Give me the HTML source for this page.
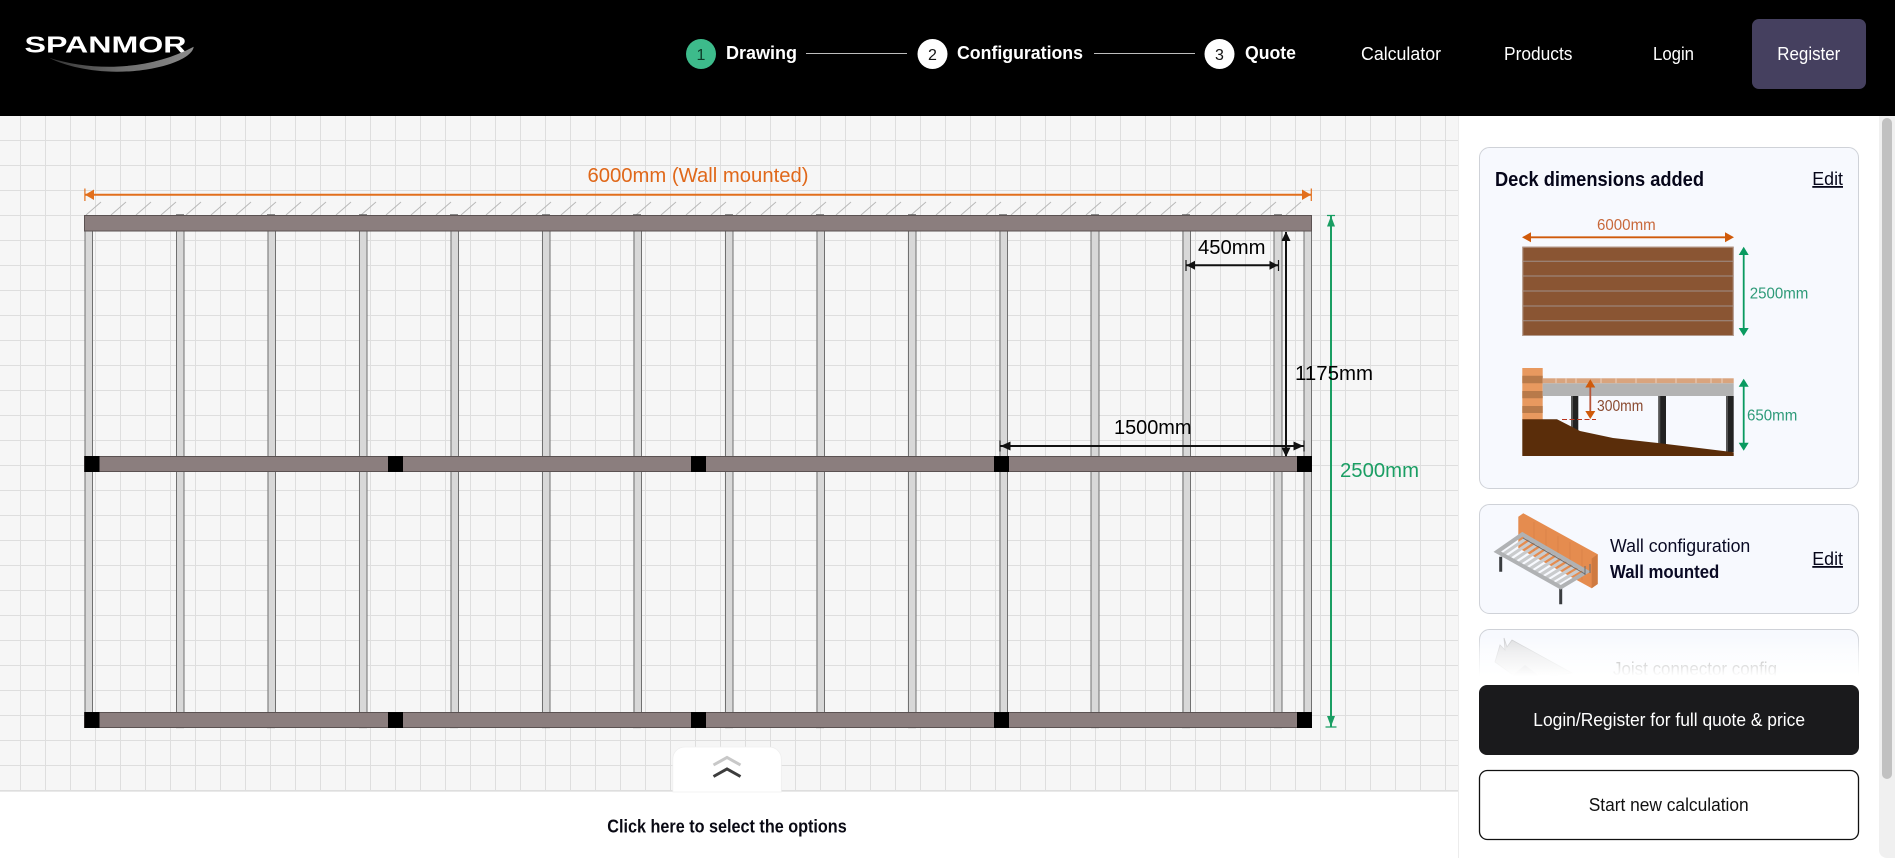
<!DOCTYPE html>
<html lang="en">
<head>
<meta charset="utf-8">
<title>Spanmor Deck Calculator</title>
<style>
html,body{margin:0;padding:0;width:1895px;height:858px;overflow:hidden;background:#fff}
svg{display:block}
text{font-family:"Liberation Sans",sans-serif}
</style>
</head>
<body>
<svg xmlns="http://www.w3.org/2000/svg" width="1895" height="858" viewBox="0 0 1895 858">
<defs>
<pattern id="g" x="20" y="115" width="25" height="25" patternUnits="userSpaceOnUse">
<rect width="25" height="25" fill="#f6f6f6"/>
<path d="M0.5 0V25M0 0.5H25" stroke="#dedede" stroke-width="1" fill="none"/>
</pattern>
<linearGradient id="fade" x1="0" y1="0" x2="0" y2="1">
<stop offset="0" stop-color="#fff" stop-opacity="0"/>
<stop offset="0.4" stop-color="#fff" stop-opacity="0.55"/>
<stop offset="1" stop-color="#fff" stop-opacity="1"/>
</linearGradient>
<linearGradient id="sw" x1="0" y1="0" x2="1" y2="0">
<stop offset="0" stop-color="#333"/>
<stop offset="0.5" stop-color="#6e6e6e"/>
<stop offset="1" stop-color="#8a8a8a"/>
</linearGradient>
</defs>

<!-- canvas -->
<rect x="0" y="116" width="1459" height="676" fill="url(#g)"/>

<!-- hatches -->
<path d="M86 215l15-13M111 215l15-13M136 215l15-13M161 215l15-13M186 215l15-13M211 215l15-13M236 215l15-13M261 215l15-13M286 215l15-13M311 215l15-13M336 215l15-13M361 215l15-13M386 215l15-13M411 215l15-13M436 215l15-13M461 215l15-13M486 215l15-13M511 215l15-13M536 215l15-13M561 215l15-13M586 215l15-13M611 215l15-13M636 215l15-13M661 215l15-13M686 215l15-13M711 215l15-13M736 215l15-13M761 215l15-13M786 215l15-13M811 215l15-13M836 215l15-13M861 215l15-13M886 215l15-13M911 215l15-13M936 215l15-13M961 215l15-13M986 215l15-13M1011 215l15-13M1036 215l15-13M1061 215l15-13M1086 215l15-13M1111 215l15-13M1136 215l15-13M1161 215l15-13M1186 215l15-13M1211 215l15-13M1236 215l15-13M1261 215l15-13M1286 215l15-13" stroke="#b8b8b8" stroke-width="1" fill="none"/>

<!-- joists -->
<g fill="#d8d8d8">
<rect x="84.500" y="231" width="8.300" height="481"/><rect x="176" y="231" width="8.300" height="481"/><rect x="267.400" y="231" width="8.300" height="481"/><rect x="358.900" y="231" width="8.300" height="481"/><rect x="450.400" y="231" width="8.300" height="481"/><rect x="541.900" y="231" width="8.300" height="481"/><rect x="633.300" y="231" width="8.300" height="481"/><rect x="724.800" y="231" width="8.300" height="481"/><rect x="816.300" y="231" width="8.300" height="481"/><rect x="907.700" y="231" width="8.300" height="481"/><rect x="999.200" y="231" width="8.300" height="481"/><rect x="1090.700" y="231" width="8.300" height="481"/><rect x="1182.100" y="231" width="8.300" height="481"/><rect x="1273.600" y="231" width="8.300" height="481"/><rect x="1303.600" y="231" width="8.300" height="481"/>
</g>
<path d="M85 231V712M92.500 231V712M176.500 231V712M184 231V712M268 231V712M275.500 231V712M359.500 231V712M367 231V712M451 231V712M458.500 231V712M542.500 231V712M550 231V712M634 231V712M641.500 231V712M725.500 231V712M733 231V712M817 231V712M824.500 231V712M908.500 231V712M916 231V712M1000 231V712M1007.500 231V712M1091 231V712M1099 231V712M1183 231V712M1190.500 231V712M1274 231V712M1282 231V712M1304 231V712M1311.500 231V712" stroke="#707070" stroke-width="1" fill="none"/>

<!-- nubs -->
<path d="M176 214.800h8M267 214.800h8M359 214.800h8M450 214.800h8M542 214.800h8M633 214.800h8M725 214.800h8M816 214.800h8M908 214.800h8M999 214.800h8M1091 214.800h8M1182 214.800h8M1274 214.800h8M176 727.500h8M267 727.500h8M359 727.500h8M450 727.500h8M542 727.500h8M633 727.500h8M725 727.500h8M816 727.500h8M908 727.500h8M1091 727.500h8M1182 727.500h8M1274 727.500h8" stroke="#666" stroke-width="1.200" fill="none"/>

<!-- beams -->
<g fill="#8b7e7e" stroke="#5b5252" stroke-width="1">
<rect x="84.500" y="215.500" width="1227" height="15.500"/>
<rect x="84.500" y="456.500" width="1227" height="15"/>
<rect x="84.500" y="712.500" width="1227" height="15"/>
</g>
<g fill="#000">
<rect x="84.500" y="456" width="15" height="16"/><rect x="388" y="456" width="15" height="16"/><rect x="691" y="456" width="15" height="16"/><rect x="994" y="456" width="15" height="16"/><rect x="1297" y="456" width="15" height="16"/>
<rect x="84.500" y="712" width="15" height="16"/><rect x="388" y="712" width="15" height="16"/><rect x="691" y="712" width="15" height="16"/><rect x="994" y="712" width="15" height="16"/><rect x="1297" y="712" width="15" height="16"/>
</g>

<!-- orange width dim -->
<path d="M85 194.700H1311" stroke="#e26f1c" stroke-width="2" fill="none"/>
<path d="M84.900 188.500V201M1311.300 188.500V201" stroke="#e26f1c" stroke-width="1.200" fill="none"/>
<path d="M85 194.700L94 189.500V200ZM1311 194.700L1302 189.500V200Z" fill="#e26f1c"/>
<text x="587.500" y="182" font-size="20" fill="#e0681a" textLength="221" lengthAdjust="spacingAndGlyphs">6000mm (Wall mounted)</text>

<!-- green height dim -->
<path d="M1331 216V727" stroke="#1a9e63" stroke-width="2" fill="none"/>
<path d="M1327 215.500H1335M1325.500 727H1336.500" stroke="#1a9e63" stroke-width="1.200" fill="none"/>
<path d="M1331 216L1335 226.500H1327ZM1331 726.500L1335 716H1327Z" fill="#1a9e63"/>
<text x="1340" y="477" font-size="20" fill="#1a9e63" textLength="79" lengthAdjust="spacingAndGlyphs">2500mm</text>

<!-- black dims -->
<g stroke="#111" fill="none">
<path d="M1186 265.300H1278" stroke-width="2"/>
<path d="M1186 260V271M1278.500 260V271" stroke-width="1.200"/>
<path d="M1286 232V456" stroke-width="2"/>
<path d="M1000 446H1304" stroke-width="2"/>
<path d="M1000 440.500V451.500M1304 440.500V451.500" stroke-width="1.200"/>
</g>
<g fill="#111">
<path d="M1186.500 265.300L1195 260.800V269.800ZM1278 265.300L1269.500 260.800V269.800Z"/>
<path d="M1286 231.500L1290.500 241H1281.500ZM1286 457L1290.500 447.500H1281.500Z"/>
<path d="M1000.500 446L1010.500 441.500V450.500ZM1303.500 446L1293.500 441.500V450.500Z"/>
</g>
<g font-size="20.500" fill="#000">
<text x="1198" y="254" textLength="67.500" lengthAdjust="spacingAndGlyphs">450mm</text>
<text x="1295" y="380" textLength="78" lengthAdjust="spacingAndGlyphs">1175mm</text>
<text x="1114" y="434" textLength="77.500" lengthAdjust="spacingAndGlyphs">1500mm</text>
</g>

<!-- bottom bar -->
<rect x="0" y="792" width="1459" height="66" fill="#fff"/>
<path d="M0 791.500H1459" stroke="#e9e9e9" stroke-width="1"/>
<path d="M672.800 792V759a12 12 0 0 1 12-12H769.300a12 12 0 0 1 12 12V792Z" fill="#fff" stroke="#efefef" stroke-width="0.800"/>
<path d="M713.500 765L727 757.500L740.500 765" stroke="#c8c8c8" stroke-width="3" fill="none"/>
<path d="M713.500 776.500L727 769L740.500 776.500" stroke="#3d3d3d" stroke-width="3" fill="none"/>
<text x="607.300" y="832.500" font-size="18" font-weight="700" fill="#0a0a14" textLength="239.400" lengthAdjust="spacingAndGlyphs">Click here to select the options</text>

<!-- right panel -->
<rect x="1459" y="116" width="436" height="742" fill="#fff"/>
<path d="M1458.500 116V858" stroke="#ececec" stroke-width="1"/>

<!-- card 1 -->
<rect x="1479.500" y="147.500" width="379" height="341" rx="10" fill="#f7f9fe" stroke="#cfd2d8"/>
<text x="1495" y="186" font-size="20" font-weight="700" fill="#06061a" textLength="209" lengthAdjust="spacingAndGlyphs">Deck dimensions added</text>
<text x="1812.300" y="185" font-size="18" fill="#06061a" text-decoration="underline" textLength="30.700" lengthAdjust="spacingAndGlyphs">Edit</text>

<rect x="1522.300" y="246.700" width="211.400" height="89.300" fill="#8a5533"/>
<path d="M1522.300 261.300H1733.700M1522.300 276H1733.700M1522.300 291H1733.700M1522.300 306H1733.700M1522.300 320.700H1733.700" stroke="#a39a98" stroke-width="1" stroke-opacity="0.850"/>
<rect x="1522.800" y="247.200" width="210.400" height="88.300" fill="none" stroke="#b39a8c" stroke-width="1"/>
<path d="M1530 237.300H1726" stroke="#d05a0a" stroke-width="1.800"/>
<path d="M1522 237.300L1531 232.300V242.300ZM1734 237.300L1725 232.300V242.300Z" fill="#d05a0a"/>
<text x="1597" y="230" font-size="16" fill="#c8683a" textLength="58.700" lengthAdjust="spacingAndGlyphs">6000mm</text>
<path d="M1743.700 253V330" stroke="#0a9a60" stroke-width="1.800"/>
<path d="M1743.700 246.700L1748.700 255H1738.700ZM1743.700 336L1748.700 328H1738.700Z" fill="#0a9a60"/>
<text x="1749.700" y="298.500" font-size="16" fill="#2d9a78" textLength="58.600" lengthAdjust="spacingAndGlyphs">2500mm</text>

<!-- section -->
<rect x="1522.300" y="368" width="20.400" height="52" fill="#e8995f"/>
<path d="M1522.300 375.700H1542.700V383.300H1522.300ZM1522.300 391H1542.700V398.300H1522.300ZM1522.300 406H1542.700V413H1522.300Z" fill="#b87a4a"/>
<rect x="1542.700" y="378.300" width="191" height="5" fill="#d9a47e"/>
<path d="M1556 378.300v5M1566 378.300v5M1576 378.300v5M1601 378.300v5M1616 378.300v5M1636 378.300v5M1656 378.300v5M1676 378.300v5M1696 378.300v5M1711 378.300v5M1722 378.300v5" stroke="#f0dccd" stroke-width="0.800"/>
<rect x="1542.700" y="383.300" width="191" height="12.700" fill="#b3b3b3"/>
<g fill="#222"><rect x="1571" y="396" width="7.300" height="36"/><rect x="1658.300" y="396" width="7.700" height="48"/><rect x="1726" y="396" width="7.700" height="56"/></g>
<path d="M1571 396h2v36h-2ZM1658.300 396h2v48h-2ZM1726 396h2v56h-2Z" fill="#555"/>
<path d="M1522.300 419.300H1557L1580 431L1613 438L1658 443L1733.700 452.300V456H1522.300Z" fill="#5a2d0a"/>
<path d="M1562 419.500H1596" stroke="#b8341f" stroke-width="1" stroke-dasharray="5 2.500"/>
<path d="M1590.300 385V413" stroke="#b8553a" stroke-width="1.800"/>
<path d="M1590.300 379.300L1595.300 387.500H1585.300ZM1590.300 419L1595.300 411H1585.300Z" fill="#d05a0a"/>
<text x="1597" y="411" font-size="16" fill="#8a4a30" textLength="46.300" lengthAdjust="spacingAndGlyphs">300mm</text>
<path d="M1743.700 385V445" stroke="#0a9a60" stroke-width="1.800"/>
<path d="M1743.700 378.700L1748.700 386.700H1738.700ZM1743.700 450.700L1748.700 442.700H1738.700Z" fill="#0a9a60"/>
<text x="1747" y="420.500" font-size="16" fill="#2d9a78" textLength="50.300" lengthAdjust="spacingAndGlyphs">650mm</text>

<!-- card 2 -->
<rect x="1479.500" y="504.500" width="379" height="109" rx="10" fill="#f7f9fe" stroke="#cfd2d8"/>
<path d="M1518.300 516.700L1523.300 513.300L1597.700 554.300V584L1591.700 588.300L1518.300 548Z" fill="#e58c4f"/>
<path d="M1591.700 558.500L1597.700 554.300V584L1591.700 588.300Z" fill="#cf7a40"/>
<path d="M1534 522V553M1546 529V560M1558 536V567M1570 542V573M1582 549V580" stroke="#d67f46" stroke-width="0.700"/>
<path d="M1500.700 556.700V571.700M1560.700 588V604.300" stroke="#3a3d40" stroke-width="3"/>
<path d="M1502.600 554.700L1527.700 537.400M1507.900 557.600L1533 540.500M1513.200 560.600L1538.400 543.700M1518.400 563.600L1543.800 546.800M1523.700 566.500L1549.100 549.900M1529 569.500L1554.500 553M1534.300 572.500L1559.900 556.100M1539.600 575.400L1565.200 559.200M1544.900 578.400L1570.600 562.400M1550.100 581.400L1576 565.500M1555.400 584.300L1581.300 568.600" stroke="#c9cbcd" stroke-width="3.200" fill="none"/>
<path d="M1497.300 551.700L1522.300 534.300L1586.700 571.700L1560.700 587.300Z" fill="none" stroke="#b0b2b4" stroke-width="4"/>
<path d="M1523 538L1585 574M1585 566v9M1590 564v9" stroke="#6a6c6e" stroke-width="1" fill="none"/>
<text x="1610" y="552" font-size="18" fill="#0a0a24" textLength="140.300" lengthAdjust="spacingAndGlyphs">Wall configuration</text>
<text x="1610" y="578" font-size="18" font-weight="700" fill="#0a0a24" textLength="109.300" lengthAdjust="spacingAndGlyphs">Wall mounted</text>
<text x="1812.300" y="565" font-size="18" fill="#06061a" text-decoration="underline" textLength="30.700" lengthAdjust="spacingAndGlyphs">Edit</text>

<!-- card 3 fading -->
<path d="M1479.500 690V639.500a10 10 0 0 1 10-10H1848.500a10 10 0 0 1 10 10V690Z" fill="#f7f9fe" stroke="#cfd2d8"/>
<path d="M1504 638L1507 647L1512 640L1572 673L1520 680L1495 662L1500 645L1505 650Z" fill="#dcdddf" stroke="#c6c7ca" stroke-width="0.800"/>
<path d="M1513 675L1525 665L1538 675V680H1513Z" fill="#bcbdc0"/>
<text x="1613" y="675" font-size="18" fill="#555" textLength="164" lengthAdjust="spacingAndGlyphs">Joist connector config</text>
<rect x="1460" y="636" width="418" height="40" fill="url(#fade)"/>
<rect x="1460" y="676" width="418" height="182" fill="#fff"/>

<!-- buttons -->
<rect x="1479" y="685" width="380" height="70" rx="8" fill="#1a1a1c"/>
<text x="1533.300" y="725.800" font-size="18" fill="#fff" textLength="271.700" lengthAdjust="spacingAndGlyphs">Login/Register for full quote &amp; price</text>
<rect x="1479.500" y="770.500" width="379" height="69" rx="8" fill="#fff" stroke="#111" stroke-width="1.300"/>
<text x="1588.700" y="810.800" font-size="18" fill="#111" textLength="160" lengthAdjust="spacingAndGlyphs">Start new calculation</text>

<!-- scrollbar -->
<path d="M1879 116H1895V858H1887a8 8 0 0 1-8-8Z" fill="#f0f0f0"/>
<rect x="1882" y="118" width="10" height="661" rx="5" fill="#c1c1c1"/>

<!-- header -->
<rect x="0" y="0" width="1895" height="116" fill="#000"/>
<text x="24.500" y="52.300" font-size="23" font-weight="700" fill="#fff" textLength="162" lengthAdjust="spacingAndGlyphs">SPANMOR</text>
<path d="M49 57.700C95 72 150 70 193.700 46.700C192 60 155 72 116 71.700C90 71.500 65 66 49 57.700Z" fill="url(#sw)"/>

<circle cx="701" cy="54" r="15" fill="#3dbb8b"/>
<text x="701" y="60" font-size="16" text-anchor="middle" fill="#0c3b28">1</text>
<text x="726" y="59" font-size="18" font-weight="700" fill="#fff" textLength="71" lengthAdjust="spacingAndGlyphs">Drawing</text>
<path d="M806 53.500H907" stroke="#bdbdbd" stroke-width="1"/>
<circle cx="932.500" cy="54" r="15" fill="#fff"/>
<text x="932.500" y="60" font-size="16" text-anchor="middle" fill="#111">2</text>
<text x="957" y="59" font-size="18" font-weight="700" fill="#fff" textLength="126" lengthAdjust="spacingAndGlyphs">Configurations</text>
<path d="M1094 53.500H1195" stroke="#bdbdbd" stroke-width="1"/>
<circle cx="1219.500" cy="54" r="15" fill="#fff"/>
<text x="1219.500" y="60" font-size="16" text-anchor="middle" fill="#111">3</text>
<text x="1245" y="59" font-size="18" font-weight="700" fill="#fff" textLength="51" lengthAdjust="spacingAndGlyphs">Quote</text>
<text x="1361" y="60" font-size="18" fill="#fff" textLength="80" lengthAdjust="spacingAndGlyphs">Calculator</text>
<text x="1504" y="60" font-size="18" fill="#fff" textLength="68.500" lengthAdjust="spacingAndGlyphs">Products</text>
<text x="1653" y="60" font-size="18" fill="#fff" textLength="41" lengthAdjust="spacingAndGlyphs">Login</text>
<rect x="1752" y="19" width="114" height="70" rx="7" fill="#45405f"/>
<text x="1777.300" y="60" font-size="18" fill="#fff" textLength="63" lengthAdjust="spacingAndGlyphs">Register</text>
</svg>
</body>
</html>
